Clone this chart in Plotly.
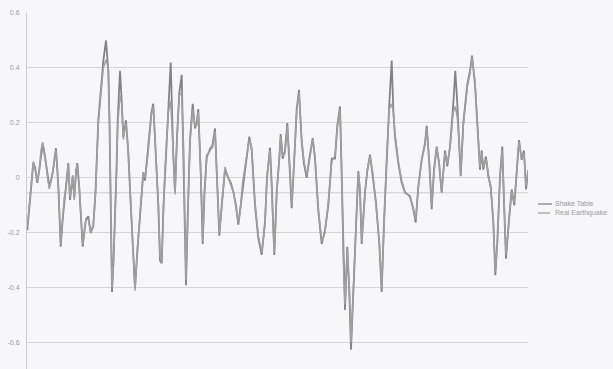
import plotly.graph_objects as go

# sample index (time steps)
t = [0.3, 2.5, 4.7, 6.3, 8, 9, 10.3, 12.3, 14, 15.7, 17.5, 19, 20.5, 22.3, 24, 25.7, 27.5, 29,
     31.3, 33.7, 35.7, 37.3, 39, 41.3, 43, 45.7, 47.3, 49, 50.3, 52.3, 54, 55.7, 57.3, 59, 61.3,
     63.7, 66.3, 68.5, 71.3, 74, 76.3, 79, 81.3, 82.5, 83.7, 85, 86.5, 88, 89.5, 90.7, 93, 94.7,
     96.3, 99, 101.3, 103.5, 106.3, 108, 110.3, 112.5, 114.7, 116.3, 118, 120.5, 123, 124.5,
     126.3, 128.5, 131.3, 133, 134.7, 136.5, 138, 141.3, 143.7, 146.3, 148, 150, 152.3, 154.7,
     156.5, 159, 161, 163, 165.7, 168, 169.7, 171.3, 173.7, 175.7, 177.5, 179.7, 183, 185.5, 188,
     190.3, 192.3, 194.7, 198, 201.3, 204, 206.3, 209, 211.3, 213, 215.5, 218, 222.3, 224.7, 228,
     231.3, 234.7, 238, 240, 243, 244.7, 247.3, 249.7, 252.3, 253.7, 255.7, 258, 260.3, 262.3,
     264.7, 267.3, 269.7, 272, 274.7, 277, 279.7, 282.3, 285.7, 288, 291.3, 294.7, 298, 301.3,
     304.7, 308, 310.3, 313, 314.7, 316.3, 318, 320.3, 322.3, 324, 326.3, 329.7, 331.3, 333,
     334.7, 338, 340.3, 343, 345.7, 349, 352.3, 354.7, 357, 359.7, 362.3, 364.7, 366.3, 368,
     371.3, 374.7, 378, 383, 386.3, 388.7, 391.3, 394.7, 398, 399.7, 402.3, 404.7, 407, 409.7,
     412, 414.7, 418, 420.3, 423, 426.3, 428.3, 430.3, 432.3, 433.7, 436.3, 440.3, 443, 445, 448,
     450.3, 453, 454.7, 456.3, 459, 461.3, 463.7, 466.3, 468.3, 470.3, 473, 475.3, 477, 479, 482,
     484.7, 487.3, 489.7, 492, 494.7, 497, 499, 501]

shake_table = [-0.19, -0.10, -0.03, 0.054, 0.04, 0.018, -0.018, 0.03, 0.09, 0.125, 0.09, 0.054,
               0.01, -0.03, -0.01, 0.018, 0.07, 0.108, -0.03, -0.25, -0.15, -0.08, -0.03, 0.054,
               -0.08, 0.005, -0.07, 0.02, 0.054, -0.04, -0.15, -0.25, -0.2, -0.15, -0.14, -0.2,
               -0.175, -0.05, 0.21, 0.33, 0.425, 0.50, 0.39, 0.2, -0.03, -0.415, -0.3, -0.15,
               0.03, 0.21, 0.39, 0.28, 0.15, 0.21, 0.09, -0.08, -0.27, -0.40, -0.27, -0.15,
               -0.055, 0.02, -0.01, 0.08, 0.185, 0.24, 0.27, 0.1, -0.10, -0.30, -0.31, -0.1,
               0.02, 0.25, 0.42, 0.08, -0.05, 0.15, 0.31, 0.375, 0.1, -0.39, -0.1, 0.14, 0.27,
               0.18, 0.2, 0.25, 0.02, -0.24, -0.05, 0.08, 0.10, 0.12, 0.18, -0.015, -0.21, -0.10,
               0.03, 0.0, -0.02, -0.05, -0.1, -0.17, -0.12, -0.03, 0.045, 0.15, 0.10, -0.10,
               -0.22, -0.28, -0.16, 0.0, 0.11, -0.02, -0.28, -0.05, 0.07, 0.16, 0.07, 0.10, 0.20,
               0.07, -0.11, 0.07, 0.25, 0.32, 0.13, 0.05, 0.0, 0.07, 0.145, 0.07, -0.12, -0.24,
               -0.19, -0.10, 0.07, 0.07, 0.19, 0.26, 0.01, -0.31, -0.48, -0.25, -0.415, -0.625,
               -0.415, -0.145, 0.025, -0.05, -0.24, -0.05, 0.025, 0.085, 0.01, -0.09, -0.24,
               -0.415, -0.16, 0.09, 0.27, 0.427, 0.246, 0.15, 0.054, -0.018, -0.054, -0.066,
               -0.114, -0.162, -0.03, 0.066, 0.126, 0.19, 0.054, -0.114, 0.03, 0.114, 0.054,
               -0.054, 0.10, 0.042, 0.114, 0.27, 0.39, 0.27, 0.114, 0.006, 0.20, 0.34, 0.39,
               0.445, 0.34, 0.21, 0.03, 0.10, 0.03, 0.078, 0.006, -0.03, -0.162, -0.354, -0.234,
               0.006, 0.114, -0.09, -0.294, -0.15, -0.042, -0.10, 0.006, 0.138, 0.066, 0.10,
               -0.042, 0.02]

real_earthquake = [-0.18, -0.09, -0.02, 0.06, 0.03, 0.02, -0.01, 0.03, 0.10, 0.13, 0.08, 0.05,
                   0.0, -0.04, -0.01, 0.02, 0.06, 0.10, -0.02, -0.24, -0.16, -0.07, -0.04, 0.05,
                   -0.07, 0.01, -0.08, 0.03, 0.05, -0.03, -0.14, -0.24, -0.19, -0.15, -0.15, -0.2,
                   -0.17, -0.06, 0.20, 0.31, 0.40, 0.43, 0.40, 0.22, -0.02, -0.40, -0.31, -0.16,
                   0.02, 0.19, 0.30, 0.27, 0.14, 0.20, 0.10, -0.07, -0.28, -0.41, -0.26, -0.15,
                   -0.05, 0.02, 0.0, 0.07, 0.17, 0.23, 0.26, 0.11, -0.09, -0.28, -0.31, -0.11,
                   0.03, 0.24, 0.28, 0.09, -0.06, 0.14, 0.30, 0.31, 0.12, -0.37, -0.12, 0.13, 0.25,
                   0.19, 0.19, 0.24, 0.03, -0.23, -0.06, 0.07, 0.11, 0.11, 0.17, -0.01, -0.20, -0.11,
                   0.04, 0.0, -0.03, -0.05, -0.11, -0.16, -0.13, -0.02, 0.04, 0.14, 0.11, -0.09,
                   -0.21, -0.27, -0.17, 0.01, 0.10, -0.03, -0.27, -0.06, 0.06, 0.15, 0.08, 0.09, 0.19,
                   0.08, -0.10, 0.06, 0.24, 0.31, 0.14, 0.06, 0.01, 0.06, 0.14, 0.08, -0.11, -0.23,
                   -0.20, -0.09, 0.06, 0.08, 0.18, 0.25, 0.02, -0.30, -0.46, -0.26, -0.40, -0.60,
                   -0.42, -0.15, 0.02, -0.04, -0.23, -0.06, 0.03, 0.08, 0.02, -0.10, -0.23,
                   -0.40, -0.17, 0.08, 0.25, 0.27, 0.24, 0.16, 0.06, -0.01, -0.05, -0.07,
                   -0.11, -0.15, -0.04, 0.07, 0.12, 0.18, 0.06, -0.10, 0.02, 0.11, 0.06,
                   -0.05, 0.09, 0.05, 0.11, 0.24, 0.26, 0.22, 0.12, 0.01, 0.19, 0.33, 0.38,
                   0.44, 0.35, 0.22, 0.04, 0.09, 0.04, 0.07, 0.01, -0.04, -0.15, -0.34, -0.24,
                   0.0, 0.10, -0.08, -0.28, -0.16, -0.05, -0.09, 0.01, 0.13, 0.07, 0.09,
                   -0.03, 0.03]

y_ticks = [-0.6, -0.4, -0.2, 0, 0.2, 0.4, 0.6]
y_tick_labels = ["-0.6", "-0.4", "-0.2", "0", "0.2", "0.4", "0.6"]
series_names = ["Shake Table", "Real Earthquake"]
axis_cross = -0.054

W, H = 613, 369
L, R, T, B = 27, 85, 13, 0
BG = "#f7f7fa"
GRID = "#d6d6da"
TXT = "#9a9a9a"
C_SHAKE = "#838383"
C_REAL = "#a0a0a0"

fig = go.Figure()
fig.add_trace(go.Scatter(x=t, y=shake_table, mode="lines", name=series_names[0],
                         line=dict(color=C_SHAKE, width=1.8), showlegend=False))
fig.add_trace(go.Scatter(x=t, y=real_earthquake, mode="lines", name=series_names[1],
                         line=dict(color=C_REAL, width=1.5), showlegend=False))

fig.update_layout(
    width=W, height=H,
    margin=dict(l=L, r=R, t=T, b=B, pad=0),
    paper_bgcolor=BG, plot_bgcolor=BG,
    font=dict(family="Liberation Sans, Arial, sans-serif", size=7, color=TXT),
    xaxis=dict(range=[0, 501], showgrid=False, zeroline=False, showticklabels=False,
               ticks="", showline=False, fixedrange=True),
    yaxis=dict(range=[-0.695, 0.6], tickvals=y_ticks, ticktext=y_tick_labels,
               showgrid=True, gridcolor=GRID, gridwidth=1, zeroline=False,
               showline=True, linecolor="#cbcbcf", linewidth=1, ticks="",
               ticklabelstandoff=5, tickfont=dict(size=7, color=TXT), fixedrange=True),
)

# horizontal category axis line
fig.add_shape(type="line", xref="paper", x0=0, x1=1, yref="y", y0=axis_cross, y1=axis_cross,
              line=dict(color="#cdcdd2", width=1), layer="below")

# legend (drawn as text + sample lines to the right of the plot)
plot_w = W - L - R
plot_h = H - T - B
def px_x(p):
    return (p - L) / plot_w
def px_y(p):
    return (H - B - p) / plot_h

legend_rows = [(series_names[0], C_SHAKE, 204, 552), (series_names[1], C_REAL, 213, 550)]
for name, col, yy, xend in legend_rows:
    fig.add_shape(type="line", xref="paper", yref="paper", x0=px_x(538), x1=px_x(xend),
                  y0=px_y(yy), y1=px_y(yy), line=dict(color=col, width=1.3))
    fig.add_annotation(xref="paper", yref="paper", x=px_x(553), y=px_y(yy), text=name,
                       showarrow=False, xanchor="left", yanchor="middle",
                       font=dict(size=7, color=TXT))

fig.write_html(
    "out.html",
    config={"displayModeBar": False, "staticPlot": True},
    post_script="document.body.style.margin='0';document.body.style.background='%s';"
                "document.body.style.overflow='hidden';" % BG,
)
